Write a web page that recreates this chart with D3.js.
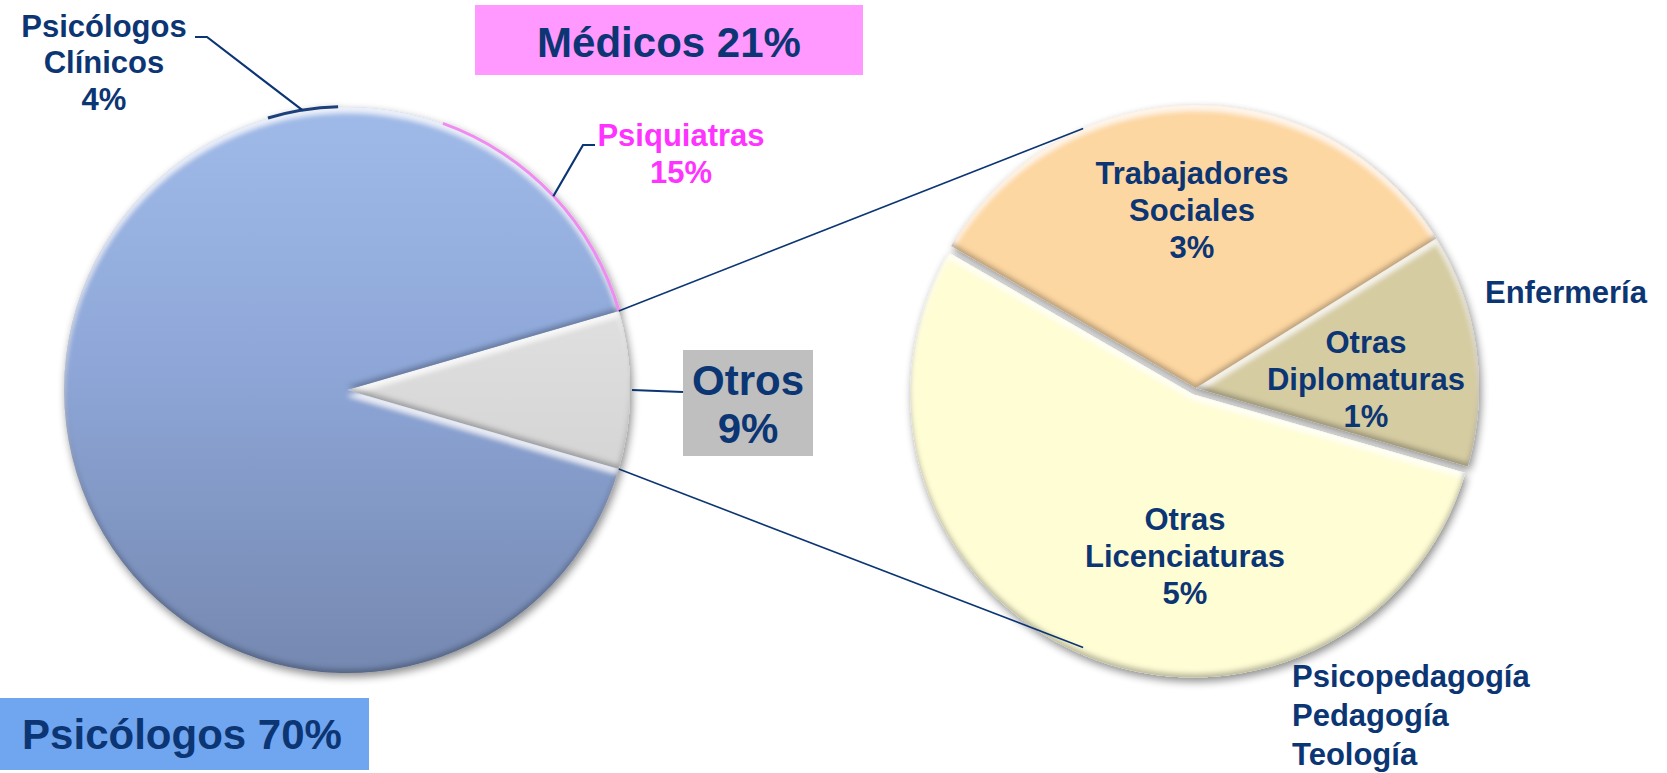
<!DOCTYPE html>
<html>
<head>
<meta charset="utf-8">
<script src="https://cdn.jsdelivr.net/npm/d3@7"></script>
<style>
  body { margin: 0; background: #fff; }
  svg { display: block; }
  text { font-family: "Liberation Sans", Arial, sans-serif; font-weight: bold; }
</style>
</head>
<body>
<div id="chart"></div>
<script>
// main pie: Otros is the split slice, the rest are drawn in blue
const mainLabels = ["Otros", "Psicólogos", "Psicólogos Clínicos", "Médicos (resto)", "Psiquiatras"];
const mainValues = [9, 66, 4, 6, 15];
const mainFills  = ["grey", "blue", "blue", "blue", "blue"];
const mainEdges  = [null, null, "#1f3f7a", null, "#f08cf0"];

// secondary pie: breakdown of Otros
const otrosLabels = ["Trabajadores Sociales", "Otras Diplomaturas", "Otras Licenciaturas"];
const otrosValues = [2.95, 1.2, 4.85];
const otrosPct    = ["3%", "1%", "5%"];
const otrosColors = ["#fdd7a1", "#d6cca2", "#fffdd4"];

const width = 1667, height = 773;
const navy = "#0c3574";
const rad = Math.PI / 180;

const svg = d3.select("#chart").append("svg")
    .attr("width", width)
    .attr("height", height);

const defs = svg.append("defs");

// drop shadow for whole pies
const shadow = defs.append("filter").attr("id", "shadow")
    .attr("x", "-10%").attr("y", "-10%").attr("width", "125%").attr("height", "125%");
shadow.append("feGaussianBlur").attr("in", "SourceAlpha").attr("stdDeviation", 4);
shadow.append("feOffset").attr("dx", 2).attr("dy", 4);
shadow.append("feComponentTransfer").append("feFuncA").attr("type", "linear").attr("slope", 0.45);
const sm = shadow.append("feMerge");
sm.append("feMergeNode");
sm.append("feMergeNode").attr("in", "SourceGraphic");

// soft bevel: light rim on top edges, dark rim on bottom edges
const bevel = defs.append("filter").attr("id", "bevel");
bevel.append("feGaussianBlur").attr("in", "SourceAlpha").attr("stdDeviation", 2.5).attr("result", "blur");
bevel.append("feOffset").attr("in", "blur").attr("dx", 0).attr("dy", 6).attr("result", "offDown");
bevel.append("feComposite").attr("in", "SourceAlpha").attr("in2", "offDown").attr("operator", "out").attr("result", "topRim");
bevel.append("feFlood").attr("flood-color", "#ffffff").attr("flood-opacity", 0.75);
bevel.append("feComposite").attr("in2", "topRim").attr("operator", "in").attr("result", "hi");
bevel.append("feOffset").attr("in", "blur").attr("dx", 0).attr("dy", -4).attr("result", "offUp");
bevel.append("feComposite").attr("in", "SourceAlpha").attr("in2", "offUp").attr("operator", "out").attr("result", "botRim");
bevel.append("feFlood").attr("flood-color", "#1c2438").attr("flood-opacity", 0.5);
bevel.append("feComposite").attr("in2", "botRim").attr("operator", "in").attr("result", "lo");
const bm = bevel.append("feMerge");
bm.append("feMergeNode").attr("in", "SourceGraphic");
bm.append("feMergeNode").attr("in", "hi");
bm.append("feMergeNode").attr("in", "lo");

// geometry
const r = 283;
const main = { x: 347, y: 390 };
const second = { x: 1196, y: 388 };

// gradients in the local (centred) coordinates of each pie group
function grad(id, y0, y1, stops) {
    const g = defs.append("linearGradient").attr("id", id)
        .attr("gradientUnits", "userSpaceOnUse")
        .attr("x1", 0).attr("x2", 0).attr("y1", y0).attr("y2", y1);
    stops.forEach(s => g.append("stop").attr("offset", s[0]).attr("stop-color", s[1]));
}
grad("blueGrad", -r, r, [[0, "#9fbae8"], [0.45, "#8ea7d8"], [1, "#7588b0"]]);
grad("greyGrad", -90, 90, [[0, "#e0e0e0"], [1, "#d4d4d4"]]);

const fillFor = { blue: "url(#blueGrad)", grey: "url(#greyGrad)" };

function pt(c, radius, a) {
    return [c.x + radius * Math.sin(a), c.y - radius * Math.cos(a)];
}

// ---------- main pie ----------
const mainData = mainLabels.map((label, i) => ({
    label, value: mainValues[i], fill: mainFills[i], edge: mainEdges[i]
}));

const otrosSpan = mainValues[0] / d3.sum(mainValues) * 2 * Math.PI;
const mainPie = d3.pie().sort(null).value(d => d.value)
    .startAngle(Math.PI / 2 - otrosSpan / 2)
    .endAngle(Math.PI / 2 - otrosSpan / 2 + 2 * Math.PI);
const mainArcs = mainPie(mainData);
const arc = d3.arc().innerRadius(0).outerRadius(r);

// neighbouring slices of the same fill are merged into one shape, so no seams show
const merged = [];
mainArcs.forEach(d => {
    const last = merged[merged.length - 1];
    if (last && last.fill === d.data.fill) last.endAngle = d.endAngle;
    else merged.push({ fill: d.data.fill, startAngle: d.startAngle, endAngle: d.endAngle });
});

const mainG = svg.append("g")
    .attr("transform", `translate(${main.x},${main.y})`)
    .attr("filter", "url(#shadow)");

mainG.selectAll("path.slice")
    .data(merged)
    .join("path")
    .attr("class", "slice")
    .attr("d", arc)
    .attr("fill", d => fillFor[d.fill])
    .attr("filter", "url(#bevel)");

// thin coloured rims of the hidden slices
const edgeArc = d3.arc().innerRadius(r - 1.2).outerRadius(r + 1.8);
mainG.selectAll("path.edge")
    .data(mainArcs.filter(d => d.data.edge))
    .join("path")
    .attr("class", "edge")
    .attr("d", edgeArc)
    .attr("fill", d => d.data.edge);

// ---------- secondary pie ----------
const otrosData = otrosLabels.map((label, i) => ({ label, value: otrosValues[i], color: otrosColors[i] }));
const secStart = -59.9 * rad;
const secPie = d3.pie().sort(null).value(d => d.value)
    .startAngle(secStart).endAngle(secStart + 2 * Math.PI);
const secArcs = secPie(otrosData);
const explode = [0, 0, 7];

const secG = svg.append("g")
    .attr("transform", `translate(${second.x},${second.y})`)
    .attr("filter", "url(#shadow)");

secG.selectAll("path")
    .data(secArcs)
    .join("path")
    .attr("d", arc)
    .attr("fill", d => d.data.color)
    .attr("filter", "url(#bevel)")
    .attr("transform", (d, i) => {
        const m = (d.startAngle + d.endAngle) / 2;
        return `translate(${explode[i] * Math.sin(m)},${-explode[i] * Math.cos(m)})`;
    });

// ---------- connector lines ----------
const otrosArc = mainArcs[0];
const connectors = [
    [pt(main, r, otrosArc.startAngle), pt(second, r, 336.5 * rad)],
    [pt(main, r, otrosArc.endAngle), pt(second, r, 203.5 * rad)]
];
svg.selectAll("line.conn")
    .data(connectors)
    .join("line")
    .attr("class", "conn")
    .attr("x1", d => d[0][0]).attr("y1", d => d[0][1])
    .attr("x2", d => d[1][0]).attr("y2", d => d[1][1])
    .attr("stroke", navy)
    .attr("stroke-width", 1.6);

// ---------- label boxes ----------
function box(x, y, w, h, fill) {
    svg.append("rect").attr("x", x).attr("y", y).attr("width", w).attr("height", h).attr("fill", fill);
}
function lines(x, ys, texts, size, color, anchor) {
    const t = svg.append("text")
        .attr("text-anchor", anchor || "middle")
        .attr("font-size", size)
        .attr("fill", color || navy);
    texts.forEach((s, i) => t.append("tspan").attr("x", x).attr("y", ys[i]).text(s));
}

box(475, 5, 388, 70, "#ff99ff");
lines(669, [57], ["Médicos 21%"], 42);

box(683, 350, 130, 106, "#bfbfbf");
lines(748, [395, 443], ["Otros", "9%"], 42);

box(0, 698, 369, 72, "#70a5f0");
lines(182, [749], ["Psicólogos 70%"], 42);

// ---------- leader lines ----------
const mid = d => (d.startAngle + d.endAngle) / 2;
const clin = mainArcs[2], psiq = mainArcs[4];
const leaders = [
    [[195, 37], [207, 37], pt(main, r, mid(clin))],
    [[595, 145], [583, 145], pt(main, r, mid(psiq))],
    [[683, 392], pt(main, r + 2, Math.PI / 2)]
];
svg.selectAll("path.leader")
    .data(leaders)
    .join("path")
    .attr("class", "leader")
    .attr("d", d => d3.line()(d))
    .attr("fill", "none")
    .attr("stroke", navy)
    .attr("stroke-width", 2.2);

// ---------- small labels ----------
lines(104, [37, 73, 110], ["Psicólogos", "Clínicos", "4%"], 31);
lines(681, [146, 183], ["Psiquiatras", "15%"], 31, "#ff33ff");

lines(1192, [184, 221, 258], ["Trabajadores", "Sociales", otrosPct[0]], 31);
lines(1366, [353, 390, 427], ["Otras", "Diplomaturas", otrosPct[1]], 31);
lines(1185, [530, 567, 604], ["Otras", "Licenciaturas", otrosPct[2]], 31);

lines(1485, [303], ["Enfermería"], 31, navy, "start");
lines(1292, [687, 726, 765], ["Psicopedagogía", "Pedagogía", "Teología"], 31, navy, "start");
</script>
</body>
</html>
